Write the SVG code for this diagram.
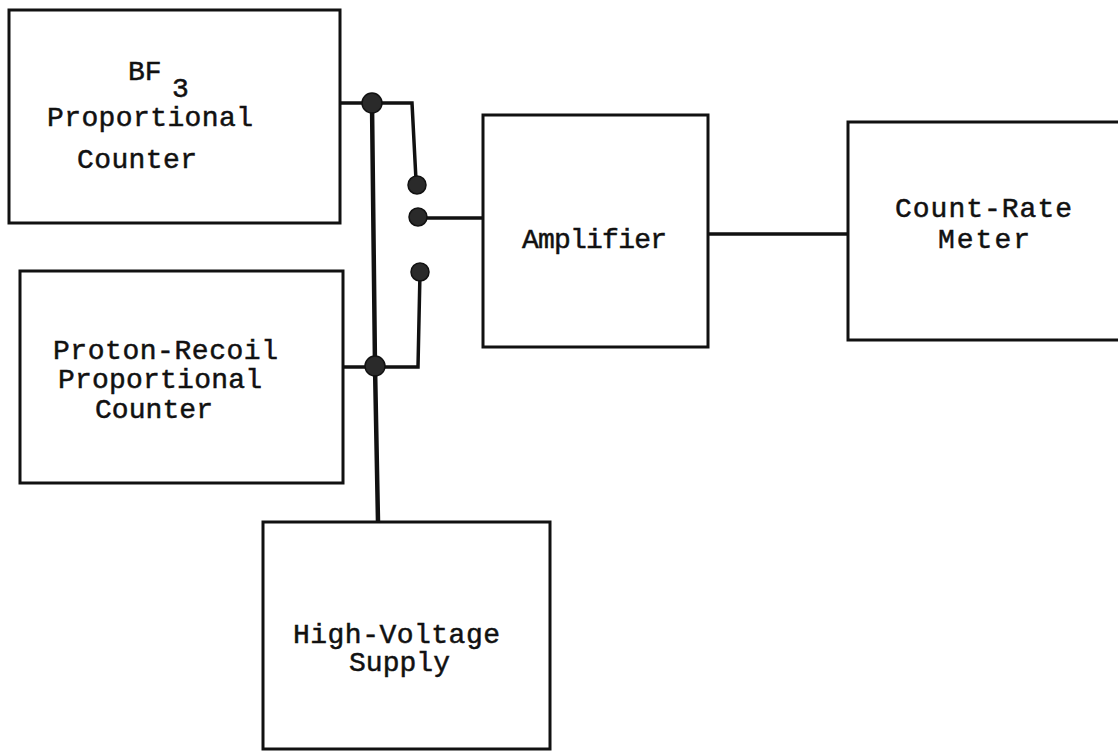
<svg xmlns="http://www.w3.org/2000/svg" width="1118" height="751" viewBox="0 0 1118 751">
<style>
.box{fill:#fff;stroke:#111;stroke-width:3}
.wire{fill:none;stroke:#111;stroke-width:3.5;stroke-linejoin:miter}
.hv{fill:none;stroke:#111;stroke-width:4.5}
.dot{fill:#2a2a2a;stroke:#111;stroke-width:1.5}
text{font-family:"Liberation Mono","Courier New",monospace;font-size:28px;fill:#111;stroke:#111;stroke-width:0.5}
</style>
<rect width="1118" height="751" fill="#fff"/>
<g id="connectors">
<polyline class="wire" points="340,103 412,103 416,180"/>
<line class="wire" x1="418" y1="218" x2="483" y2="218"/>
<polyline class="wire" points="420,272 418,367 343,367"/>
<polyline class="hv" points="372,103 375,366 378,522"/>
<line class="wire" x1="708" y1="234" x2="848" y2="234"/>
<circle class="dot" cx="372" cy="103" r="10"/>
<circle class="dot" cx="375" cy="366" r="10"/>
<circle class="dot" cx="417" cy="185" r="9"/>
<circle class="dot" cx="418" cy="217" r="9"/>
<circle class="dot" cx="420" cy="272" r="9"/>
</g>
<g id="bf3">
<rect class="box" x="9" y="10" width="331" height="213"/>
<text x="128" y="80">BF</text>
<text x="172" y="97">3</text>
<text x="47" y="126" textLength="206" lengthAdjust="spacing">Proportional</text>
<text x="77" y="168" textLength="120" lengthAdjust="spacing">Counter</text>
</g>
<g id="proton">
<rect class="box" x="20" y="271" width="323" height="212"/>
<text x="53" y="359" textLength="225" lengthAdjust="spacing">Proton-Recoil</text>
<text x="58" y="388" textLength="204" lengthAdjust="spacing">Proportional</text>
<text x="95" y="418" textLength="118" lengthAdjust="spacing">Counter</text>
</g>
<g id="amplifier">
<rect class="box" x="483" y="115" width="225" height="232"/>
<text x="522" y="248" textLength="145" lengthAdjust="spacing">Amplifier</text>
</g>
<g id="countrate">
<rect class="box" x="848" y="122" width="277" height="218"/>
<text x="895" y="217" textLength="177" lengthAdjust="spacing">Count-Rate</text>
<text x="938" y="248" textLength="92" lengthAdjust="spacing">Meter</text>
</g>
<g id="hvsupply">
<rect class="box" x="263" y="522" width="287" height="227"/>
<text x="293" y="643" textLength="207" lengthAdjust="spacing">High-Voltage</text>
<text x="349" y="671" textLength="101" lengthAdjust="spacing">Supply</text>
</g>
</svg>
